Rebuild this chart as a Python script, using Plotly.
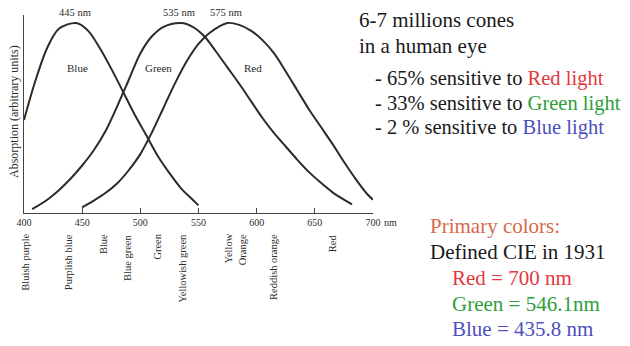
import plotly.graph_objects as go

# ---- data (wavelength nm, absorption arbitrary units) ----
blue_nm = [400, 410, 420, 430, 445, 455, 465, 475, 485, 495, 505, 515, 525, 535, 545, 550]
blue_abs = [0.49, 0.70, 0.87, 0.97, 1.0, 0.96, 0.87, 0.76, 0.64, 0.52, 0.41, 0.30, 0.21, 0.13, 0.07, 0.04]

green_nm = [407, 420, 430, 440, 450, 460, 470, 480, 490, 500, 510, 520, 535, 545, 555, 565,
            575, 585, 595, 605, 615, 625, 635, 645, 655, 665, 675, 682]
green_abs = [0.02, 0.07, 0.12, 0.18, 0.25, 0.33, 0.43, 0.56, 0.70, 0.84, 0.93, 0.98, 1.0, 0.98, 0.93, 0.85,
             0.765, 0.68, 0.59, 0.50, 0.42, 0.35, 0.28, 0.215, 0.16, 0.11, 0.07, 0.045]

red_nm = [450, 460, 470, 480, 490, 500, 510, 520, 530, 540, 550, 560, 575, 585, 595, 605,
          615, 625, 635, 645, 655, 665, 675, 685, 695, 700]
red_abs = [0.03, 0.065, 0.105, 0.155, 0.225, 0.31, 0.425, 0.555, 0.685, 0.80, 0.89, 0.95, 1.0, 0.99, 0.96, 0.91,
           0.84, 0.745, 0.645, 0.545, 0.455, 0.365, 0.27, 0.18, 0.10, 0.07]

tick_vals = [400, 450, 500, 550, 600, 650, 700]
tick_text = ["400", "450", "500", "550", "600", "650", "700"]

peak_nm = [445, 535, 575]
peak_text = ["445 nm", "535 nm", "575 nm"]

curve_names = ["Blue", "Green", "Red"]
curve_label_nm = [445.6, 516, 597]

color_names = ["Bluish purple", "Purplish blue", "Blue", "Blue green", "Green",
               "Yellowish green", "Yellow", "Orange", "Reddish orange", "Red"]
color_name_nm = [401, 438, 468, 489, 514, 536, 575, 588, 614, 665]

# ---- layout geometry (page pixels; page body has an 8px margin) ----
OFF = 8
PAGE_W, PAGE_H = 630, 346
PLOT_L, PLOT_R, PLOT_T, PLOT_B = 24, 373, 15, 213
W, H = PAGE_W - OFF, PAGE_H - OFF
ML, MT = PLOT_L - OFF, PLOT_T - OFF
MR, MB = PAGE_W - PLOT_R, PAGE_H - PLOT_B
PW = PLOT_R - PLOT_L
PH = PLOT_B - PLOT_T
YMAX = PH / 190.0

def px(x):
    return (x - PLOT_L) / PW

def py(y):
    return (PLOT_B - y) / PH

SERIF = "Liberation Serif, Times New Roman, serif"
INK = "#2b2b2b"

fig = go.Figure()
for xs, ys in [(blue_nm, blue_abs), (green_nm, green_abs), (red_nm, red_abs)]:
    fig.add_trace(go.Scatter(x=xs, y=ys, mode="lines",
                             line=dict(color=INK, width=2, shape="spline", smoothing=0.9),
                             showlegend=False, hoverinfo="skip"))

ann = []
# peak labels
for nm, t in zip(peak_nm, peak_text):
    ann.append(dict(x=nm - 1.5, y=py(12), xref="x", yref="paper", text=t, showarrow=False,
                    font=dict(family=SERIF, size=10.5, color=INK), xanchor="center", yanchor="middle"))
# curve labels
for nm, t in zip(curve_label_nm, curve_names):
    ann.append(dict(x=nm, y=py(68), xref="x", yref="paper", text=t, showarrow=False,
                    font=dict(family=SERIF, size=11, color=INK), xanchor="center", yanchor="middle"))
# colour names under axis
for nm, t in zip(color_name_nm, color_names):
    ann.append(dict(x=nm, y=py(232), xref="x", yref="paper", text=t, showarrow=False, textangle=-90,
                    font=dict(family=SERIF, size=10.5, color=INK), xanchor="center", yanchor="top"))
# nm unit after 700
ann.append(dict(x=700, y=py(222), xref="x", yref="paper", text="nm", showarrow=False, xanchor="left",
                yanchor="middle", xshift=9, font=dict(family=SERIF, size=10, color=INK)))
# y-axis title
ann.append(dict(x=px(14), y=py(112), xref="paper", yref="paper", text="Absorption (arbitrary units)",
                showarrow=False, textangle=-90, font=dict(family=SERIF, size=12, color=INK),
                xanchor="center", yanchor="middle", borderpad=0))

RED, GREEN, BLUE, ORANGE = "#e2383f", "#2f9e3b", "#4e4fc0", "#d8694a"
right_lines = [
    (357, 20, 21, "6-7 millions cones"),
    (357, 46, 21, "in a human eye"),
    (373, 78, 20.5, f"- 65% sensitive to <span style='color:{RED}'>Red light</span>"),
    (373, 103, 20.5, f"- 33% sensitive to <span style='color:{GREEN}'>Green light</span>"),
    (373, 127, 20.5, f"- 2 % sensitive to <span style='color:{BLUE}'>Blue light</span>"),
    (428, 226, 21, f"<span style='color:{ORANGE}'>Primary colors:</span>"),
    (428, 252, 21, "Defined CIE in 1931"),
    (450, 278, 21, f"<span style='color:{RED}'>Red = 700 nm</span>"),
    (450, 304, 21, f"<span style='color:{GREEN}'>Green = 546.1nm</span>"),
    (450, 329, 21, f"<span style='color:{BLUE}'>Blue = 435.8 nm</span>"),
]
for x, y, fs, t in right_lines:
    ann.append(dict(x=px(x), y=py(y), xref="paper", yref="paper", text=t, showarrow=False,
                    xanchor="left", yanchor="middle", align="left",
                    font=dict(family=SERIF, size=fs, color="#1a1a1a")))

fig.update_layout(
    width=W, height=H,
    margin=dict(l=ML, r=MR, t=MT, b=MB, pad=0),
    paper_bgcolor="white", plot_bgcolor="white",
    annotations=ann,
    xaxis=dict(range=[400, 700], showgrid=False, zeroline=False, showline=True,
               linecolor="#444", linewidth=1.2, ticks="inside", ticklen=5, tickcolor="#444",
               tickvals=tick_vals, ticktext=tick_text,
               tickfont=dict(family=SERIF, size=10, color=INK)),
    yaxis=dict(range=[0, YMAX], showgrid=False, zeroline=False, showline=True,
               linecolor="#444", linewidth=1.2, showticklabels=False, ticks=""),
)

fig.write_html("out.html")
